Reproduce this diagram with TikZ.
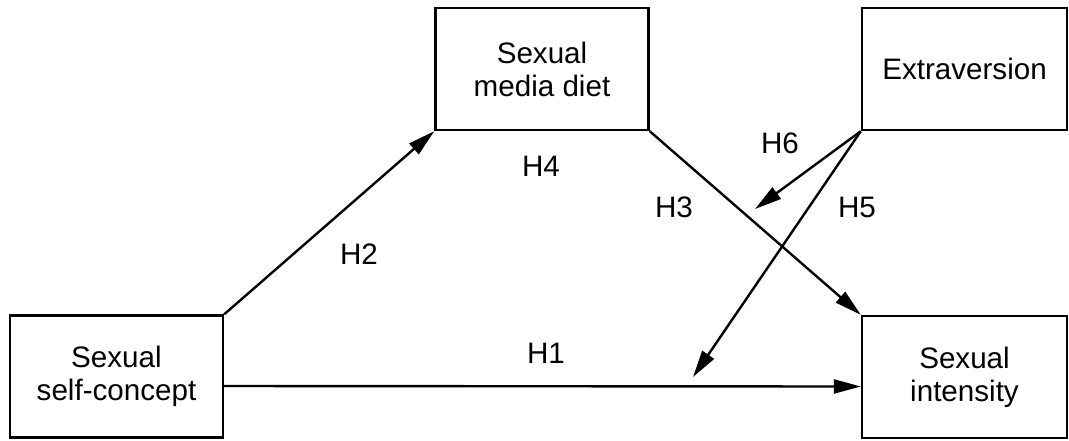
\documentclass[tikz,border=0pt]{standalone}
\usepackage{fontspec}
\setmainfont{Liberation Sans}
\usetikzlibrary{arrows.meta, positioning}

\begin{document}
\begin{tikzpicture}[
    x=0.5pt, y=-0.5pt,
    every node/.style={font=\fontsize{14.8}{16.5}\selectfont},
    box/.style={rectangle, draw, line width=1.2pt, align=center, minimum width=106.5pt, minimum height=61pt, inner sep=0pt},
    wbox/.style={box, minimum width=102.5pt},
    arr/.style={-{Triangle[length=13.5pt, width=7pt]}, line width=1.2pt},
    lbl/.style={inner sep=0pt}
]
\useasboundingbox (0,0) rectangle (1069,440);

% Variable boxes
\node[box] (self) at (116.5,376.5) {Sexual\\self-concept};
\node[box] (media) at (542,69) {Sexual\\media diet};
\node[wbox] (extra) at (964.5,69) {Extraversion};
\node[wbox] (intens) at (964.5,377) {Sexual\\intensity};

% Free ends of the moderation arrows
\coordinate (h6end) at (755,209);
\coordinate (h5end) at (693,377);

% Direct and indirect paths
\draw[arr] ([yshift=-4.75pt]self.east) -- ([yshift=-4.75pt]intens.west);
\draw[arr] (self.north east) -- (media.south west);
\draw[arr] (media.south east) -- (intens.north west);

% Moderation by extraversion
\draw[arr] (extra.south west) -- (h6end);
\draw[arr] (extra.south west) -- (h5end);

% Hypothesis labels
\node[lbl] (lh1) at (546,353) {H1};
\node[lbl] (lh2) at (359,254) {H2};
\node[lbl] (lh3) at (674,207) {H3};
\node[lbl] (lh4) at (541,166) {H4};
\node[lbl] (lh5) at (857,207) {H5};
\node[lbl] (lh6) at (780,143) {H6};

\end{tikzpicture}
\end{document}
